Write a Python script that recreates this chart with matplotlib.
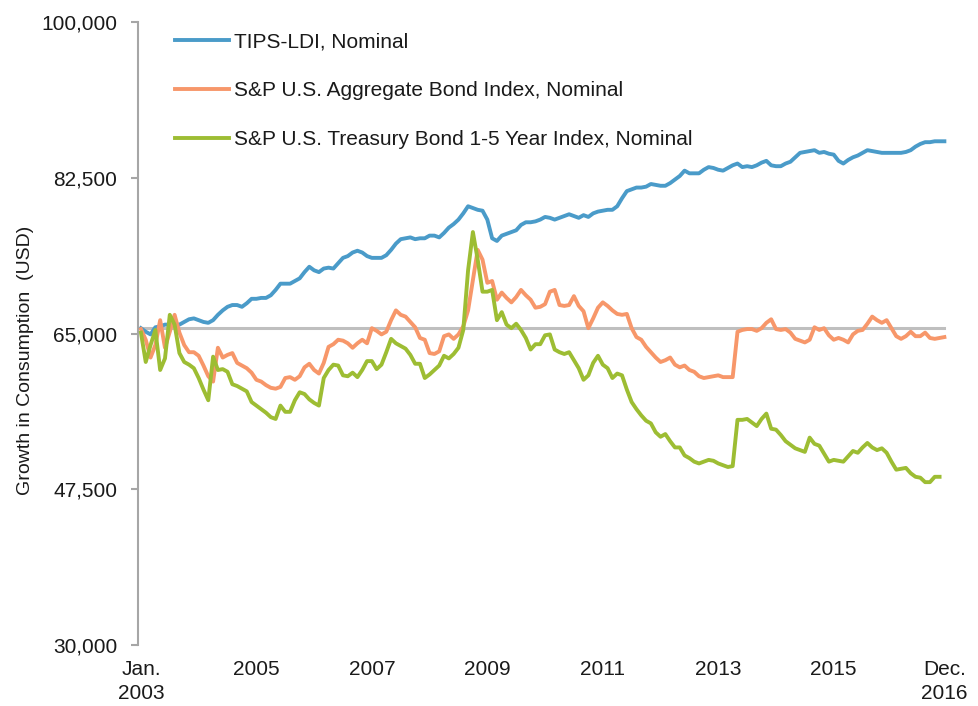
import numpy as np
import matplotlib
matplotlib.use("Agg")
import matplotlib.pyplot as plt
from matplotlib.ticker import FuncFormatter

plt.rcParams['font.family'] = ['Liberation Sans', 'DejaVu Sans']

# Monthly values, Jan 2003 .. Dec 2016 (USD thousands)
tips_ldi_k = [
    65.6, 65.2, 64.9, 65.7, 65.8, 66.0, 66.0, 66.0, 66.0, 66.3, 66.6, 66.7,
    66.5, 66.3, 66.2, 66.5, 67.1, 67.6, 68.0, 68.2, 68.2, 68.0, 68.4, 68.9,
    68.9, 69.0, 69.0, 69.3, 69.9, 70.6, 70.6, 70.6, 70.9, 71.2, 71.9, 72.5,
    72.1, 71.9, 72.3, 72.4, 72.3, 72.9, 73.5, 73.7, 74.1, 74.3, 74.1, 73.7,
    73.5, 73.5, 73.5, 73.8, 74.4, 75.1, 75.6, 75.7, 75.8, 75.6, 75.7, 75.7,
    76.0, 76.0, 75.8, 76.3, 76.9, 77.3, 77.8, 78.5, 79.3, 79.1, 78.9, 78.8,
    77.8, 75.7, 75.4, 76.0, 76.2, 76.4, 76.6, 77.2, 77.5, 77.5, 77.6, 77.8,
    78.1, 78.0, 77.8, 78.0, 78.2, 78.4, 78.2, 78.0, 78.3, 78.1, 78.5, 78.7,
    78.8, 78.9, 78.9, 79.3, 80.2, 81.0, 81.2, 81.4, 81.4, 81.5, 81.8, 81.7,
    81.6, 81.6, 81.9, 82.3, 82.7, 83.3, 83.0, 83.0, 83.0, 83.4, 83.7, 83.6,
    83.4, 83.3, 83.6, 83.9, 84.1, 83.7, 83.8, 83.7, 83.9, 84.2, 84.4, 83.9,
    83.8, 83.8, 84.1, 84.3, 84.8, 85.3, 85.4, 85.5, 85.6, 85.3, 85.4, 85.2,
    85.1, 84.4, 84.1, 84.5, 84.8, 85.0, 85.3, 85.6, 85.5, 85.4, 85.3, 85.3,
    85.3, 85.3, 85.3, 85.4, 85.6, 86.0, 86.3, 86.5, 86.5, 86.6, 86.6, 86.6,
]

aggregate_k = [
    65.5, 64.3, 62.3, 63.7, 66.5, 63.4, 65.2, 67.1, 65.1, 63.7, 62.9, 62.9,
    62.5, 61.4, 60.2, 59.6, 63.4, 62.3, 62.6, 62.8, 61.7, 61.4, 61.1, 60.6,
    59.8, 59.6, 59.2, 58.9, 58.8, 59.0, 60.0, 60.1, 59.8, 60.2, 61.2, 61.6,
    60.9, 60.5, 61.7, 63.5, 63.8, 64.3, 64.2, 63.9, 63.4, 63.9, 64.3, 63.9,
    65.6, 65.3, 64.9, 65.2, 66.5, 67.6, 67.1, 66.9, 66.3, 65.7, 64.5, 64.3,
    62.8, 62.7, 63.0, 64.7, 64.9, 64.4, 64.9, 65.8, 67.6, 71.0, 74.4, 73.3,
    70.7, 70.9, 68.8, 69.6, 69.0, 68.5, 69.1, 69.9, 69.3, 68.8, 67.9, 68.0,
    68.3, 69.7, 69.9, 68.2, 68.1, 68.2, 69.2, 68.1, 67.5, 65.6, 66.7, 67.9,
    68.5, 68.1, 67.6, 67.2, 67.1, 67.2, 65.6, 64.6, 64.3, 63.5, 62.9, 62.3,
    61.8, 62.0, 62.3, 61.5, 61.2, 61.4, 60.9, 60.7, 60.2, 60.0, 60.1, 60.2,
    60.3, 60.1, 60.1, 60.1, 65.2, 65.4, 65.5, 65.5, 65.3, 65.6, 66.2, 66.6,
    65.5, 65.4, 65.5, 65.1, 64.4, 64.2, 64.0, 64.3, 65.7, 65.4, 65.6, 64.8,
    64.3, 64.5, 64.3, 64.0, 64.9, 65.3, 65.4, 66.1, 66.9, 66.5, 66.2, 66.5,
    65.6, 64.7, 64.4, 64.7, 65.2, 64.7, 64.7, 65.1, 64.5, 64.4, 64.5, 64.6,
]

treasury_1_5_k = [
    65.1, 61.8, 63.7, 65.4, 60.9, 62.2, 67.1, 66.0, 62.8, 61.8, 61.5, 61.1,
    60.0, 58.7, 57.5, 62.4, 60.9, 61.0, 60.7, 59.3, 59.1, 58.8, 58.5, 57.3,
    56.9, 56.5, 56.1, 55.6, 55.4, 56.9, 56.2, 56.2, 57.5, 58.4, 58.2, 57.6,
    57.2, 56.9, 60.0, 60.9, 61.5, 61.4, 60.3, 60.2, 60.6, 60.1, 60.9, 61.9,
    61.9, 61.0, 61.5, 62.9, 64.4, 63.9, 63.6, 63.3, 62.6, 61.6, 61.6, 60.0,
    60.4, 60.9, 61.4, 62.5, 62.2, 62.7, 63.4, 65.4, 72.1, 76.4, 73.3, 69.7,
    69.7, 69.9, 66.5, 67.4, 66.0, 65.6, 66.1, 65.4, 64.5, 63.2, 63.8, 63.8,
    64.8, 64.9, 63.2, 62.9, 62.7, 62.9, 62.0, 61.1, 59.8, 60.3, 61.7, 62.5,
    61.5, 61.1, 60.0, 60.5, 60.3, 58.7, 57.3, 56.5, 55.8, 55.2, 54.9, 53.9,
    53.4, 53.7, 52.9, 52.2, 52.2, 51.3, 51.0, 50.6, 50.4, 50.6, 50.8, 50.7,
    50.4, 50.2, 50.0, 50.1, 55.3, 55.3, 55.4, 55.0, 54.6, 55.4, 56.0, 54.3,
    54.2, 53.6, 52.9, 52.5, 52.1, 51.9, 51.7, 53.3, 52.6, 52.4, 51.5, 50.6,
    50.8, 50.7, 50.6, 51.2, 51.8, 51.6, 52.2, 52.7, 52.2, 51.9, 52.1, 51.6,
    50.6, 49.7, 49.8, 49.9, 49.3, 48.9, 48.8, 48.3, 48.3, 48.9, 48.9,
]

baseline_k = 65.6
series_names = [
    "TIPS-LDI, Nominal",
    "S&P U.S. Aggregate Bond Index, Nominal",
    "S&P U.S. Treasury Bond 1-5 Year Index, Nominal",
]
tick_months = [0, 24, 48, 72, 96, 120, 144, 167]
tick_labels = ["Jan.\n2003", "2005", "2007", "2009", "2011", "2013", "2015", "Dec.\n2016"]
y_ticks = [30000, 47500, 65000, 82500, 100000]

colors = ["#4A9BC9", "#F7976A", "#9DBD33"]

fig = plt.figure(figsize=(9.79, 7.06), dpi=100)
ax = fig.add_axes([0.141, 0.0864, 0.831, 0.8824])

n_months = len(tips_ldi_k)
ax.plot([0, n_months - 1], [baseline_k * 1000] * 2, color="#BFBFBF", lw=2.2, zorder=1)

for vals, name, c in zip([tips_ldi_k, aggregate_k, treasury_1_5_k], series_names, colors):
    v = np.array(vals) * 1000
    ax.plot(np.arange(len(v)), v, color=c, lw=2.8, label=name, zorder=3,
            solid_joinstyle="round")

ax.set_xlim(-0.6, 168.5)
ax.set_ylim(30000, 100000)
ax.set_yticks(y_ticks)
ax.yaxis.set_major_formatter(FuncFormatter(lambda v, p: f"{int(v):,}"))
ax.set_xticks(tick_months)
ax.set_xticklabels(tick_labels, linespacing=1.3)

for s in ["top", "right", "bottom"]:
    ax.spines[s].set_visible(False)
ax.spines["left"].set_color("#A6A6A6")
ax.spines["left"].set_linewidth(1.5)
ax.tick_params(axis="y", direction="out", length=5, width=1.5, color="#A6A6A6",
               labelsize=15, pad=10, labelcolor="#1a1a1a")
ax.tick_params(axis="x", length=0, labelsize=15, pad=11, labelcolor="#1a1a1a")

ax.set_ylabel("Growth in Consumption  (USD)", fontsize=14, labelpad=5, color="#1a1a1a")
ax.yaxis.label.set_y(0.457)

leg = ax.legend(loc="upper left", bbox_to_anchor=(0.022, 1.013), frameon=False,
                fontsize=15, handlelength=2.6, handletextpad=0.25, labelspacing=1.42)
for t in leg.get_texts():
    t.set_color("#1a1a1a")

fig.savefig("out.png", dpi=100)
